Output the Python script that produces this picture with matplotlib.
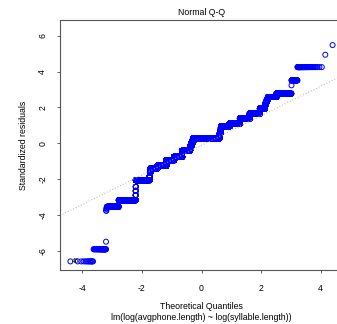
import numpy as np
import matplotlib
matplotlib.use("Agg")
import matplotlib.pyplot as plt
from statistics import NormalDist

# Standardized residuals (sorted levels and how many observations sit on each)
resid_levels = [-6.60, -5.92, -5.50, -3.77, -3.65, -3.55, -3.18, -2.90, -2.66, -2.43,
                -2.06, -1.85, -1.65, -1.50, -1.41, -1.26, -0.95, -0.76, -0.42, -0.30,
                -0.15, 0.00, 0.14, 0.28, 0.40, 0.55, 0.70, 0.85, 0.95, 1.10,
                1.38, 1.65, 1.93, 2.15, 2.30, 2.45, 2.58, 2.77, 3.23, 3.51,
                4.25, 4.94, 5.48]
resid_counts = [13, 49, 1, 2, 3, 183, 1001, 5, 5, 5,
                2515, 78, 80, 80, 2396, 4580, 5525, 7300, 8020, 1100,
                1100, 1100, 1229, 30685, 529, 529, 529, 528, 7420, 6709,
                4241, 2550, 777, 115, 115, 114, 647, 425, 1, 57,
                57, 1, 1]

# qqline
line_intercept = -0.12
line_slope = 0.826

x_ticks = [-4, -2, 0, 2, 4]
y_ticks = [-6, -4, -2, 0, 2, 4, 6]
point_label = "46"

# Q-Q coordinates
resid = np.repeat(resid_levels, resid_counts)
n = len(resid)
nd = NormalDist()
theo = np.array([nd.inv_cdf((i - 0.5) / n) for i in range(1, n + 1)])

plt.rcParams["font.family"] = ["Liberation Sans", "DejaVu Sans"]

fig = plt.figure(figsize=(3.37, 3.24), dpi=100)
W, H = 337, 324
ax = fig.add_axes([60 / W, 54 / H, 283 / W, 250 / H])

ax.scatter(theo, resid, s=13, facecolors="none", edgecolors="blue", linewidths=0.7)
ax.axline((0, line_intercept), slope=line_slope, color="#b0b0b0", linestyle=(0, (1, 2)), linewidth=0.7)

ax.annotate(point_label, (theo[0], resid[0]), xytext=(1.2, 0), textcoords="offset points",
            ha="left", va="center", fontsize=4.7)

ax.set_xlim(-4.75, 4.75)
ax.set_ylim(-7.08, 6.88)
ax.set_xticks(x_ticks)
ax.set_yticks(y_ticks)
ax.set_xticklabels([str(t) for t in x_ticks], fontsize=6.3)
ax.set_yticklabels([str(t) for t in y_ticks], fontsize=6.3, rotation=90, va="center")
ax.tick_params(direction="out", length=2.2, width=0.6, color="#444444")
ax.tick_params(axis="x", pad=8)
ax.tick_params(axis="y", pad=7)
for s in ax.spines.values():
    s.set_color("#555555")
    s.set_linewidth(0.8)

fig.text(201.5 / W, 1 - 12.7 / H, "Normal Q-Q", ha="center", va="center", fontsize=6.3)
fig.text(201.5 / W, 1 - 306.7 / H, "Theoretical Quantiles", ha="center", va="center", fontsize=6.3)
fig.text(201.5 / W, 1 - 317.5 / H, "lm(log(avgphone.length) ~ log(syllable.length))",
         ha="center", va="center", fontsize=6.3)
fig.text(24 / W, 1 - 145 / H, "Standardized residuals", ha="center", va="center",
         rotation=90, fontsize=6.3)

fig.savefig("out.png", dpi=100)
